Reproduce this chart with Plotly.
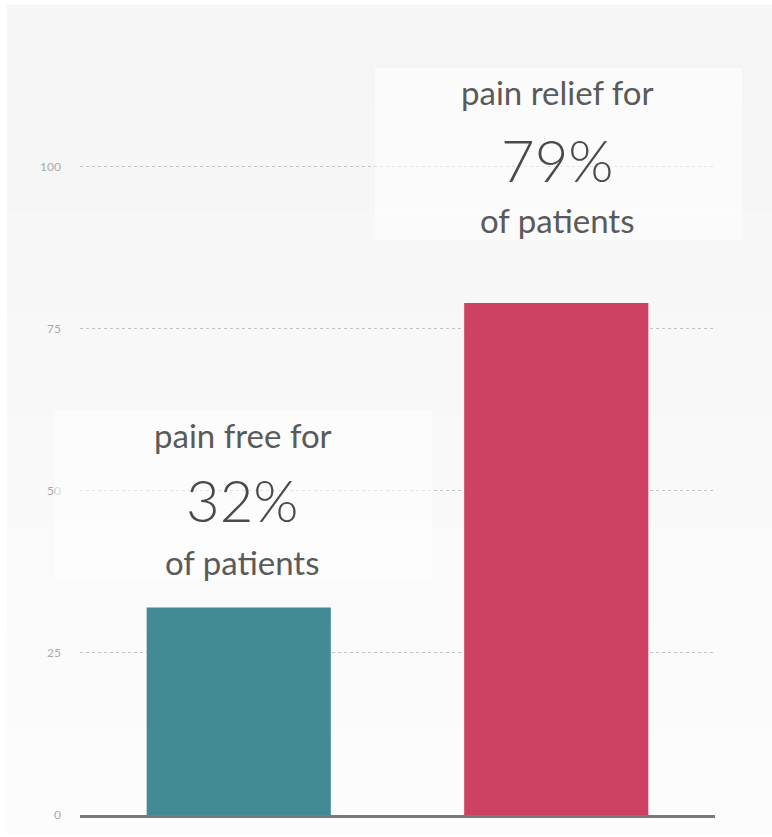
import plotly.graph_objects as go

# ---- data ----
categories = ["pain free", "pain relief"]
values = [32, 79]
bar_colors = ["#428A94", "#CF4162"]
label_top = ["pain free for", "pain relief for"]
label_mid = ["32%", "79%"]
label_bot = ["of patients", "of patients"]
tick_vals = [0, 25, 50, 75, 100]
tick_text = ["0", "25", "50", "75", "100"]

W, H = 772, 837
ML, MR, MT, MB = 80, 57, 102, 22
pw = W - ML - MR
ph = H - MT - MB
YMAX = 110

def px_x(px):
    return (px - ML) / pw

def px_y(py):
    return (H - MB - py) / ph

fig = go.Figure()
fig.add_trace(go.Bar(
    x=categories, y=values,
    marker=dict(color=bar_colors, line=dict(width=0)),
    hoverinfo="skip",
))

shapes = []
# background panel with a subtle vertical gradient
top_px, bot_px = 5, 834
shades = ["#f5f5f5", "#f6f6f6", "#f7f7f7", "#f8f8f8", "#f9f9f9", "#fafafa", "#fbfbfb", "#fcfcfc"]
n = len(shades)
for i in range(n):
    y0 = top_px + (bot_px - top_px) * i / n
    y1 = top_px + (bot_px - top_px) * (i + 1) / n
    shapes.append(dict(type="rect", xref="paper", yref="paper", layer="below",
                       x0=px_x(7), x1=px_x(772), y0=px_y(y1), y1=px_y(y0),
                       fillcolor=shades[i], line=dict(width=0)))

# translucent label boxes
boxes = [(55, 432, 410, 580), (375, 742, 68, 240)]
for (x0, x1, yt, yb) in boxes:
    shapes.append(dict(type="rect", xref="paper", yref="paper", layer="above",
                       x0=px_x(x0), x1=px_x(x1), y0=px_y(yb), y1=px_y(yt),
                       fillcolor="rgba(255,255,255,0.55)", line=dict(width=0)))

annotations = []
offsets = [(26.6, 16.6, 7.0), (32.6, 22.1, 12.8)]
xshifts = [4, 1]
for i, c in enumerate(categories):
    o1, o2, o3 = offsets[i]
    v = values[i]
    common = dict(x=c, xref="x", yref="paper", showarrow=False,
                  xanchor="center", yanchor="middle", xshift=xshifts[i])
    annotations.append(dict(y=(v + o1) / YMAX, text=label_top[i],
                            font=dict(family="Lato", size=33, color="#5a5a5a"), **common))
    annotations.append(dict(y=(v + o2) / YMAX, text=label_mid[i],
                            font=dict(family="Lato", size=58, color="#4a4a4a", weight=300), **common))
    annotations.append(dict(y=(v + o3) / YMAX, text=label_bot[i],
                            font=dict(family="Lato", size=33, color="#5a5a5a"), **common))

fig.update_layout(
    width=W, height=H,
    margin=dict(l=ML, r=MR, t=MT, b=MB, pad=0),
    paper_bgcolor="white",
    plot_bgcolor="rgba(0,0,0,0)",
    showlegend=False,
    bargap=0.42,
    shapes=shapes,
    annotations=annotations,
    xaxis=dict(showticklabels=False, ticks="", showgrid=False, zeroline=False,
               showline=True, linecolor="#7a7a7a", linewidth=3, fixedrange=True),
    yaxis=dict(range=[0, YMAX], tickvals=tick_vals, ticktext=tick_text,
               showgrid=True, gridcolor="#c4c4c4", griddash="dot", gridwidth=1,
               zeroline=False, showline=False, ticks="", ticklabelstandoff=18,
               tickfont=dict(family="Lato", size=12, color="#aaaaaa")),
)

fig.write_html("out.html", config={"displayModeBar": False},
               post_script="document.body.style.margin='0';document.body.style.padding='0';")
